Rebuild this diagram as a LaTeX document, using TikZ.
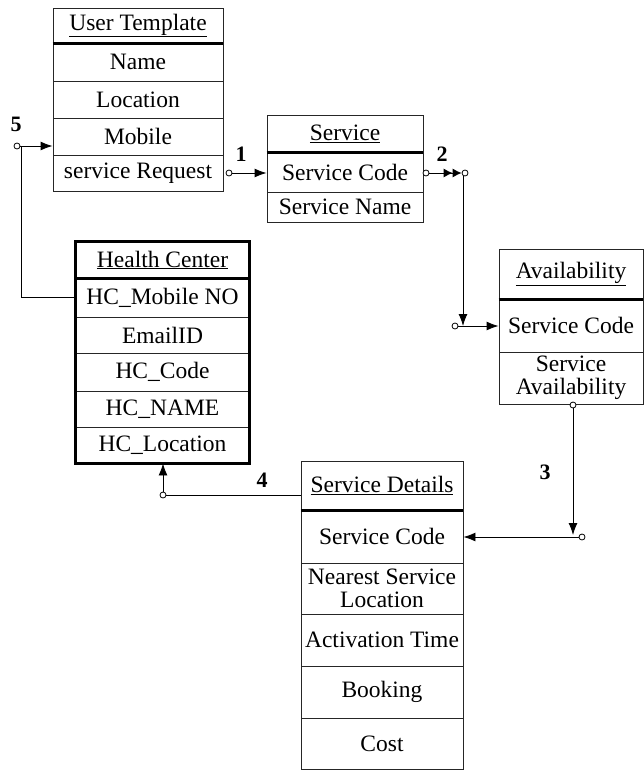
\documentclass[tikz,border=0pt]{standalone}
\usepackage{fontspec}
\setmainfont{Liberation Serif}
\usetikzlibrary{arrows.meta}
\begin{document}
\begin{tikzpicture}[x=1pt,y=-1pt,
  cell/.style={draw=black!85, line width=0.9pt, rectangle, inner sep=0pt, align=center, font=\fontsize{23.5}{23}\selectfont},
  dot/.style={circle, draw, line width=0.8pt, inner sep=0pt, minimum size=6pt, fill=white},
  num/.style={font=\fontsize{22}{22}\selectfont\bfseries},
  conn/.style={line width=0.9pt},
  arr/.style={conn, -{Latex[length=12pt,width=9pt]}},
  darr/.style={conn, -{Latex[length=9pt,width=9pt]Latex[length=9pt,width=9pt]}},
  heavy/.style={line width=3pt}
]
\useasboundingbox (0,0) rectangle (644,771);

% User Template
\node[cell, minimum width=170pt, minimum height=35pt] (ut-h) at (138,25.5) {\underline{User Template}};
\node[cell, minimum width=170pt, minimum height=38pt] (ut-name) at (138,62) {Name};
\node[cell, minimum width=170pt, minimum height=37pt] (ut-loc) at (138,99.5) {Location};
\node[cell, minimum width=170pt, minimum height=37pt] (ut-mob) at (138,136.5) {Mobile};
\node[cell, minimum width=170pt, minimum height=36pt] (ut-req) at (138,173) {service Request};
\draw[heavy] (ut-h.south west) -- (ut-h.south east);

% Service
\node[cell, minimum width=156pt, minimum height=37pt] (sv-h) at (345,133.5) {\underline{Service}};
\node[cell, minimum width=156pt, minimum height=40pt] (sv-code) at (345,172) {Service Code};
\node[cell, minimum width=156pt, minimum height=30pt] (sv-name) at (345,207) {Service Name};
\draw[heavy] (sv-h.south west) -- (sv-h.south east);

% Availability
\node[cell, minimum width=144pt, minimum height=50pt] (av-h) at (571,274) {\underline{Availability}};
\node[cell, minimum width=144pt, minimum height=53pt] (av-code) at (571,325.5) {Service Code};
\node[cell, minimum width=144pt, minimum height=52pt] (av-av) at (571,378) {Service\\Availability};
\draw[heavy] (av-h.south west) -- (av-h.south east);

% Health Center
\node[cell, minimum width=173pt, minimum height=36pt] (hc-h) at (162.5,260) {\underline{Health Center}};
\node[cell, minimum width=173pt, minimum height=39pt] (hc-mob) at (162.5,297.5) {HC\_Mobile NO};
\node[cell, minimum width=173pt, minimum height=36pt] (hc-mail) at (162.5,335) {EmailID};
\node[cell, minimum width=173pt, minimum height=38pt] (hc-code) at (162.5,372) {HC\_Code};
\node[cell, minimum width=173pt, minimum height=36pt] (hc-name) at (162.5,409) {HC\_NAME};
\node[cell, minimum width=173pt, minimum height=36pt] (hc-loc) at (162.5,445) {HC\_Location};
\draw[heavy] (hc-h.south west) -- (hc-h.south east);
\draw[heavy] (hc-h.north west) rectangle (hc-loc.south east);

% Service Details
\node[cell, minimum width=162pt, minimum height=49pt] (sd-h) at (382,485.5) {\underline{Service Details}};
\node[cell, minimum width=162pt, minimum height=53pt] (sd-code) at (382,536.5) {Service Code};
\node[cell, minimum width=162pt, minimum height=51pt] (sd-near) at (382,588.5) {Nearest Service\\Location};
\node[cell, minimum width=162pt, minimum height=52pt] (sd-act) at (382,640) {Activation Time};
\node[cell, minimum width=162pt, minimum height=52pt] (sd-book) at (382,692) {Booking};
\node[cell, minimum width=162pt, minimum height=51pt] (sd-cost) at (382,743.5) {Cost};
\draw[heavy] (sd-h.south west) -- (sd-h.south east);

% connector 1
\node[dot] (c1) at (229,173) {};
\draw[arr] (c1) -- (sv-code.west |- c1);
\node[num] (n1) at (241,154) {1};

% connector 2
\node[dot] (c2a) at (426,173) {};
\node[dot] (c2b) at (465,173) {};
\draw[darr] (c2a) -- (c2b);
\coordinate (j2) at (463,326);
\node[dot] (c2c) at (455,326) {};
\draw[arr] (c2b.south -| j2) -- (j2);
\draw[arr] (c2c) -- (av-code.west |- c2c);
\node[num] (n2) at (442,154) {2};

% connector 3
\node[dot] (c3a) at (573,405) {};
\coordinate (j3) at (573,535);
\node[dot] (c3b) at (582,537) {};
\draw[arr] (c3a) -- (j3);
\draw[arr] (c3b) -- (sd-code.east |- c3b);
\node[num] (n3) at (545,472) {3};

% connector 4
\node[dot] (c4) at (163,495) {};
\draw[conn] (sd-h.west |- c4) -- (c4);
\draw[arr] (c4) -- (hc-loc.south -| c4);
\node[num] (n4) at (262,480) {4};

% connector 5
\node[dot] (c5) at (17,146) {};
\draw[arr] (c5) -- (ut-mob.west |- c5);
\draw[conn] (hc-mob.west) -| (21,146);
\node[num] (n5) at (16,124) {5};
\end{tikzpicture}
\end{document}
